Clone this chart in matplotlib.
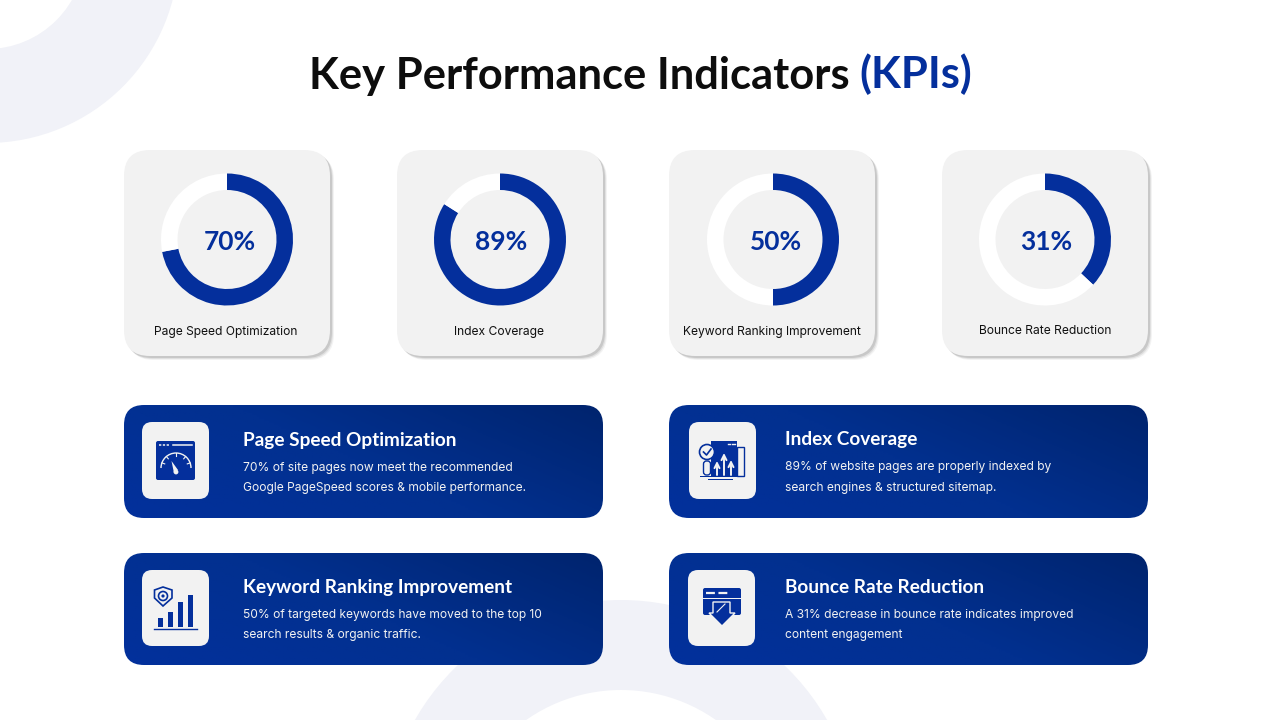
import numpy as np
import matplotlib
matplotlib.use('Agg')
import matplotlib.pyplot as plt
from matplotlib.patches import FancyBboxPatch, Rectangle, Circle, Polygon, Arc
from matplotlib.colors import LinearSegmentedColormap

kpi_names = ['Page Speed Optimization', 'Index Coverage', 'Keyword Ranking Improvement', 'Bounce Rate Reduction']
kpi_labels = ['70%', '89%', '50%', '31%']
# the drawn arcs do not quite follow the printed labels
arc_values = [72, 84, 50, 37]
descriptions = [
    '70% of site pages now meet the recommended\nGoogle PageSpeed scores & mobile performance.',
    '89% of website pages are properly indexed by\nsearch engines & structured sitemap.',
    '50% of targeted keywords have moved to the top 10\nsearch results & organic traffic.',
    'A 31% decrease in bounce rate indicates improved\ncontent engagement',
]
bar_heights = [9, 15, 25, 32]

BLUE = '#042F9C'
CARD = '#F2F2F2'
RING = '#F1F2F8'
HEAD_FONT = 'Lato'
W, H = 1280, 720

fig = plt.figure(figsize=(12.8, 7.2), dpi=100, facecolor='white')
ax = fig.add_axes([0, 0, 1, 1])
ax.set_xlim(0, W)
ax.set_ylim(H, 0)
ax.axis('off')


def rounded(x, y, w, h, r, **kw):
    return FancyBboxPatch((x + r, y + r), w - 2 * r, h - 2 * r,
                          boxstyle='round,pad=%f,rounding_size=%f' % (r, r), **kw)


# background rings
ax.add_patch(Circle((-13, -49), 192, fc=RING, ec='none', zorder=0))
ax.add_patch(Circle((-13, -49), 98, fc='white', ec='none', zorder=0.1))
ax.add_patch(Circle((621, 837), 237, fc=RING, ec='none', zorder=0))
ax.add_patch(Circle((621, 855), 165, fc='white', ec='none', zorder=0.1))

# title
ax.text(309, 88.5, 'Key Performance Indicators', fontsize=31.3, fontweight='bold', family=HEAD_FONT,
        color='#0D0D0D', ha='left', va='baseline', zorder=5)
ax.text(859, 88.5, '(KPIs)', fontsize=31.3, fontweight='bold', family=HEAD_FONT,
        color=BLUE, ha='left', va='baseline', zorder=5)

# donut cards
card_x = [124, 397, 669, 942]
donut_x = [227, 500, 773, 1045]
text_x = [230, 501, 776, 1046]
label_x = [226, 499.5, 772, 1045]
for i in range(4):
    for k, a in enumerate([0.10, 0.18, 0.28]):
        ax.add_patch(rounded(card_x[i] + 4 - k, 154 - k, 206, 206, 26, fc='#8C8C8C', ec='none', alpha=a, zorder=1))
    ax.add_patch(rounded(card_x[i], 150, 206, 206, 26, fc=CARD, ec='none', zorder=2))
    r = 66
    dax = fig.add_axes([(donut_x[i] - r) / W, 1 - (239.5 + r) / H, 2 * r / W, 2 * r / H])
    dax.pie([arc_values[i], 100 - arc_values[i]], colors=[BLUE, 'white'], startangle=90, counterclock=False,
            radius=1.0, wedgeprops={'width': 0.25, 'linewidth': 0})
    dax.set_xlim(-1, 1)
    dax.set_ylim(-1, 1)
    dax.patch.set_alpha(0)
    dax.text((text_x[i] - donut_x[i]) / r, -0.035, kpi_labels[i], fontsize=19, fontweight='bold', family=HEAD_FONT,
             color=BLUE, ha='center', va='center')
    ax.text(label_x[i], 331.5, kpi_names[i], fontsize=8.7, family='Inter', color='#111111',
            ha='center', va='center', zorder=5)

# detail panels
panel_x = [124, 669, 124, 669]
panel_y = [405, 405, 553, 553]
panel_h = [113, 113, 112, 112]
icon_x = [142, 689, 142, 688]
head_x = [243, 785, 243, 785]
head_y = [440.5, 439.5, 587.5, 587.5]
desc_y = [478, 477.5, 625, 625]
cmap = LinearSegmentedColormap.from_list('panel', ['#02309C', '#02308F', '#00246E'])
gx, gy = np.meshgrid(np.linspace(0, 1, 200), np.linspace(0, 1, 60))
grad = gx * 0.65 + (1 - gy) * 0.35
for i in range(4):
    px, py, ph = panel_x[i], panel_y[i], panel_h[i]
    im = ax.imshow(grad, extent=(px, px + 479, py + ph, py), cmap=cmap, vmin=0, vmax=1, aspect='auto', zorder=2)
    clip = rounded(px, py, 479, ph, 20, fc='none', ec='none', transform=ax.transData, zorder=2)
    ax.add_patch(clip)
    im.set_clip_path(clip)
    ax.add_patch(rounded(icon_x[i], py + 17, 67, 77 if i < 2 else 76, 10, fc=CARD, ec='none', zorder=3))
    ax.text(head_x[i], head_y[i], kpi_names[i], fontsize=13.7, fontweight='bold', family=HEAD_FONT,
            color='white', ha='left', va='center', zorder=5)
    ax.text(head_x[i], desc_y[i], descriptions[i], fontsize=8.65, family='Inter', color='#F2F2F2', ha='left',
            va='center', linespacing=1.92, zorder=5)
ax.set_xlim(0, W)
ax.set_ylim(H, 0)

# icon 1: browser window with gauge
ax.add_patch(rounded(156, 441, 39, 39, 2, fc=BLUE, ec='none', zorder=4))
ax.plot([159, 169], [445, 445], color=CARD, lw=1.1, ls=(0, (1.5, 1)), zorder=5)
ax.plot([173, 192], [445, 445], color=CARD, lw=1.1, zorder=5)
ax.add_patch(Arc((176, 468), 30, 30, theta1=180, theta2=360, color=CARD, lw=1, zorder=5))
for ang in np.radians([200, 230, 270, 310, 340]):
    ax.plot([176 + 15 * np.cos(ang), 176 + 12 * np.cos(ang)], [468 + 15 * np.sin(ang), 468 + 12 * np.sin(ang)],
            color=CARD, lw=0.8, zorder=5)
ax.add_patch(Polygon([[171.5, 461], [178, 470], [174, 473]], fc=CARD, ec='none', zorder=5))
ax.add_patch(Circle((176, 472), 2.4, fc=CARD, ec='none', zorder=5))

# icon 2: magnifier and arrows on a screen
ax.add_patch(Rectangle((711, 441), 26, 35, fc=BLUE, ec='none', zorder=4))
ax.add_patch(Rectangle((737, 447), 7, 29, fc=CARD, ec=BLUE, lw=1, zorder=4))
ax.add_patch(Rectangle((700, 475.5), 44, 1.3, fc=BLUE, ec='none', zorder=4))
ax.add_patch(Rectangle((708, 478.8), 25, 1.3, fc=BLUE, ec='none', zorder=4))
ax.plot([728, 730], [443.5, 443.5], color=CARD, lw=1, zorder=5)
ax.plot([732, 735], [443.5, 443.5], color=CARD, lw=1, zorder=5)
ax.add_patch(Circle((707, 452), 7.5, fc=CARD, ec=BLUE, lw=1.2, zorder=5))
ax.plot([703.5, 706.5, 711], [452, 455, 449], color=BLUE, lw=1.2, zorder=6)
ax.add_patch(rounded(703.5, 461, 7, 14, 3, fc=CARD, ec=BLUE, lw=1, zorder=5))
for ar_x, top in zip([717, 724, 731], [461, 453, 460]):
    ax.annotate('', xy=(ar_x, top), xytext=(ar_x, 475),
                arrowprops=dict(arrowstyle='->', color=CARD, lw=1.4, mutation_scale=9,
                                shrinkA=0, shrinkB=0), zorder=6)

# icon 3: shield and bars
bar_x = [158, 168, 178, 188]
ax.bar(bar_x, bar_heights, width=5, bottom=[627 - v for v in bar_heights], align='edge', color=BLUE, zorder=4)
ax.plot([154, 197], [628.5, 628.5], color=BLUE, lw=1, zorder=4)
ax.add_patch(Polygon([[154.5, 590], [163, 587], [172, 590], [172, 598], [163, 606], [154.5, 598]],
                     fc=CARD, ec=BLUE, lw=1.2, zorder=4))
ax.add_patch(Circle((163, 596), 4.5, fc=CARD, ec=BLUE, lw=1.2, zorder=5))
ax.add_patch(Circle((163, 596), 1.6, fc=BLUE, ec='none', zorder=5))
ax.set_xlim(0, W)
ax.set_ylim(H, 0)

# icon 4: window with down arrow
ax.add_patch(rounded(703, 588, 38, 27, 2, fc=BLUE, ec='none', zorder=4))
ax.add_patch(Rectangle((703, 597.5), 38, 1, fc=CARD, ec='none', zorder=5))
ax.plot([706, 728], [593, 593], color=CARD, lw=1.6, ls=(0, (4, 1.6)), zorder=5)
ax.add_patch(Polygon([[713, 602], [730, 602], [730, 613], [735, 613], [722, 626], [709, 613], [713, 613]],
                     fc=BLUE, ec=CARD, lw=1, zorder=5))
ax.plot([717, 725], [612, 604], color=CARD, lw=0.8, zorder=6)

plt.savefig('out.png', dpi=100)
